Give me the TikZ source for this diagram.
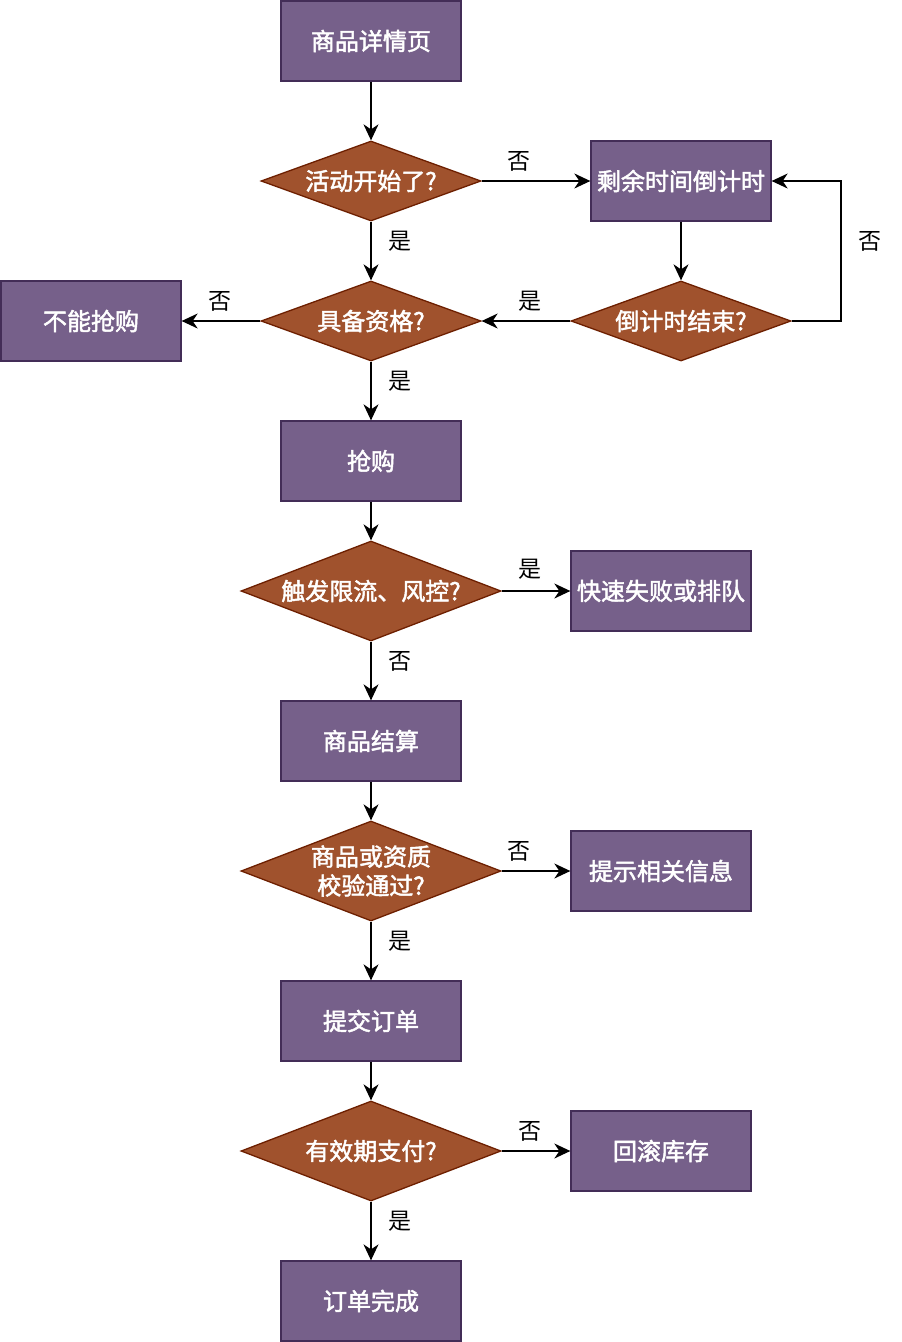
\documentclass[tikz,border=0pt]{standalone}
\usepackage{fontspec}
\newfontfamily\cjk{Noto Sans CJK SC}
\newfontfamily\cjkb[FakeBold=2]{Noto Sans CJK SC}
\usetikzlibrary{shapes.geometric,arrows.meta}
\definecolor{boxfill}{HTML}{76608A}
\definecolor{boxline}{HTML}{432D57}
\definecolor{dfill}{HTML}{A0522D}
\definecolor{dline}{HTML}{6D1F00}
\tikzset{
  procbox/.style={rectangle, draw=boxline, fill=boxfill, line width=1.3pt,
    minimum width=180pt, minimum height=80pt, inner sep=0pt, text=white,
    font=\cjkb\fontsize{24}{29}\selectfont},
  decide/.style={diamond, draw=dline, fill=dfill, line width=1.3pt,
    aspect=2.75, minimum width=220pt, minimum height=80pt, inner sep=0pt, text=white,
    align=center, font=\cjkb\fontsize{24}{29}\selectfont},
  bigdecide/.style={decide, aspect=2.6, minimum width=260pt, minimum height=100pt},
  edgelbl/.style={font=\cjk\fontsize{23}{26}\selectfont, inner sep=0pt},
  flow/.style={line width=1.3pt, -{Stealth[length=16pt,width=15pt,inset=5pt]}}
}
\begin{document}
\begin{tikzpicture}[x=1pt,y=-1pt]
\useasboundingbox (0,0) rectangle (902,1342);
\node[procbox] (a) at (371,41) {商品详情页};
\node[decide] (b) at (371,181) {活动开始了?};
\node[procbox] (c) at (681,181) {剩余时间倒计时};
\node[decide] (e) at (681,321) {倒计时结束?};
\node[decide] (d) at (371,321) {具备资格?};
\node[procbox] (f) at (91,321) {不能抢购};
\node[procbox] (g) at (371,461) {抢购};
\node[bigdecide] (h) at (371,591) {触发限流、风控?};
\node[procbox] (i) at (661,591) {快速失败或排队};
\node[procbox] (j) at (371,741) {商品结算};
\node[bigdecide] (k) at (371,871) {商品或资质\\校验通过?};
\node[procbox] (l) at (661,871) {提示相关信息};
\node[procbox] (m) at (371,1021) {提交订单};
\node[bigdecide] (n) at (371,1151) {有效期支付?};
\node[procbox] (o) at (661,1151) {回滚库存};
\node[procbox] (p) at (371,1301) {订单完成};
\coordinate (loopA) at (841,321);
\coordinate (loopB) at (841,181);

\draw[flow] (a.south) -- (b.north);
\draw[flow] (b.east) -- (c.west);
\draw[flow] (b.south) -- (d.north);
\draw[flow] (c.south) -- (e.north);
\draw[flow] (e.east) -- (loopA) -- (loopB) -- (c.east);
\draw[flow] (e.west) -- (d.east);
\draw[flow] (d.west) -- (f.east);
\draw[flow] (d.south) -- (g.north);
\draw[flow] (g.south) -- (h.north);
\draw[flow] (h.east) -- (i.west);
\draw[flow] (h.south) -- (j.north);
\draw[flow] (j.south) -- (k.north);
\draw[flow] (k.east) -- (l.west);
\draw[flow] (k.south) -- (m.north);
\draw[flow] (m.south) -- (n.north);
\draw[flow] (n.east) -- (o.west);
\draw[flow] (n.south) -- (p.north);

\node[edgelbl] (l1) at (519,161) {否};
\node[edgelbl] (l2) at (400,241) {是};
\node[edgelbl] (l3) at (870,241) {否};
\node[edgelbl] (l4) at (220,301) {否};
\node[edgelbl] (l5) at (530,301) {是};
\node[edgelbl] (l6) at (400,381) {是};
\node[edgelbl] (l7) at (530,569) {是};
\node[edgelbl] (l8) at (400,661) {否};
\node[edgelbl] (l9) at (519,851) {否};
\node[edgelbl] (l10) at (400,941) {是};
\node[edgelbl] (l11) at (530,1131) {否};
\node[edgelbl] (l12) at (400,1221) {是};
\end{tikzpicture}
\end{document}
